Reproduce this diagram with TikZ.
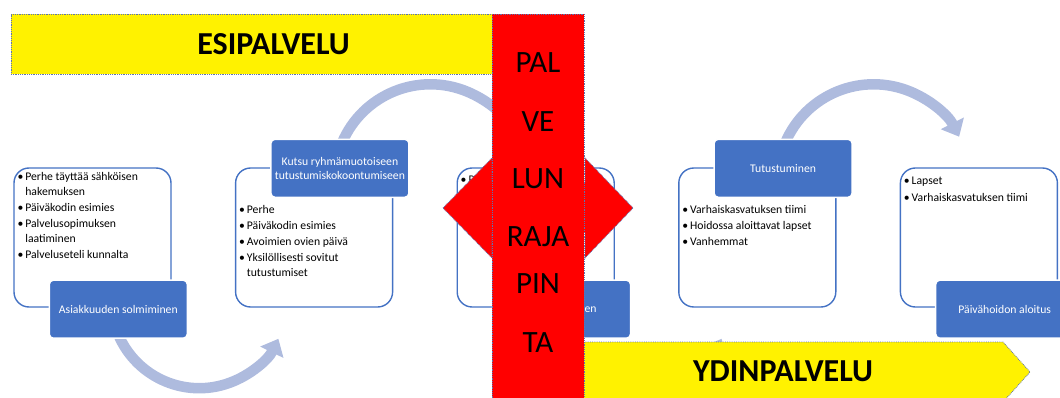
\documentclass[tikz,border=0pt]{standalone}
\usepackage{fontspec}
\setmainfont{Carlito}
\usetikzlibrary{arrows.meta,positioning,calc}

\definecolor{boxblue}{HTML}{4472C4}
\definecolor{arcblue}{RGB}{174,187,222}
\definecolor{dotblue}{RGB}{95,115,175}

\newcommand{\smalltxt}{\fontsize{11.7}{15}\selectfont}
\newcommand{\bigtxt}{\fontsize{31}{36}\selectfont}

\begin{document}
\begin{tikzpicture}
[x=1pt, y=1pt, node distance=63.2pt,
card/.style = {draw=boxblue, line width=1.4pt, rounded corners=15pt, fill=white,
  minimum width=157pt, minimum height=139pt, inner sep=0pt},
stage/.style = {fill=boxblue, draw=white, line width=1.5pt, rounded corners=4pt,
  minimum width=138pt, minimum height=58pt, inner sep=0pt, text=white,
  align=center, font=\smalltxt},
items/.style = {anchor=base west, inner sep=0pt, font=\smalltxt},
turn/.style = {draw=arcblue, line width=10.5pt, -{Triangle[length=15pt,width=25pt]}},
band/.style = {draw=dotblue, densely dotted, line width=0.8pt},
word/.style = {font=\bigtxt, anchor=base, inner sep=0pt}]
\useasboundingbox (0,0) rectangle (1060,-398);
\clip (0,0) rectangle (1060,-398);

% white boxes
\node [card] (w1) at (92.5,-237.5) {};
\node [card, right=of w1] (w2) {};
\node [card, right=of w2] (w3) {};
\node [card, right=of w3] (w4) {};
\node [card, right=of w4] (w5) {};

% curved arrows
\coordinate (c1) at ($(w1.south west)+(186,7.5)$);
\coordinate (c2) at ($(w2.north west)+(195.5,-13)$);
\coordinate (c3) at ($(w3.south west)+(186,7.5)$);
\coordinate (c4) at ($(w4.north west)+(195.5,-13)$);
\draw[turn] ($(c1)+(200:88pt)$) arc[start angle=200, end angle=334, radius=88pt];
\draw[turn] ($(c2)+(160:96pt)$) arc[start angle=160, end angle=27, radius=96pt];
\draw[turn] ($(c3)+(200:88pt)$) arc[start angle=200, end angle=334, radius=88pt];
\draw[turn] ($(c4)+(160:96pt)$) arc[start angle=160, end angle=27, radius=96pt];

% stage labels
\node [stage] (s1) at ($(w1.south west)+(105,-1.5)$) {Asiakkuuden solmiminen};
\node [stage] (s2) at ($(w2.north west)+(105,-1)$) {Kutsu ryhmämuotoiseen\\[-1pt]tutustumiskokoontumiseen};
\node [stage] (s3) at ($(w3.south west)+(105,-1.5)$) {Perehdytyksen};
\node [stage] (s4) at ($(w4.north west)+(105,-1)$) {Tutustuminen};
\node [stage] (s5) at ($(w5.south west)+(105,-1.5)$) {Päivähoidon aloitus};

% bullet lists
\node [items] (t1) at ($(w1.north west)+(4,-13)$) {\begin{tabular}[t]{@{}l@{\hspace{2pt}}l@{}}
•&Perhe täyttää sähköisen\\&hakemuksen\\[1pt]
•&Päiväkodin esimies\\[1pt]
•&Palvelusopimuksen\\&laatiminen\\[1pt]
•&Palveluseteli kunnalta\end{tabular}};
\node [items] (t2) at ($(w2.north west)+(4,-46)$) {\begin{tabular}[t]{@{}l@{\hspace{2pt}}l@{}}
•&Perhe\\[1pt]
•&Päiväkodin esimies\\[1pt]
•&Avoimien ovien päivä\\[1pt]
•&Yksilöllisesti sovitut\\&tutustumiset\end{tabular}};
\node [items] (t3) at ($(w3.north west)+(4,-16)$) {\begin{tabular}[t]{@{}l@{\hspace{2pt}}l@{}}
•&Perhe\end{tabular}};
\node [items] (t4) at ($(w4.north west)+(4,-46)$) {\begin{tabular}[t]{@{}l@{\hspace{2pt}}l@{}}
•&Varhaiskasvatuksen tiimi\\[1pt]
•&Hoidossa aloittavat lapset\\[1pt]
•&Vanhemmat\end{tabular}};
\node [items] (t5) at ($(w5.north west)+(4,-17)$) {\begin{tabular}[t]{@{}l@{\hspace{2pt}}l@{}}
•&Lapset\\[2pt]
•&Varhaiskasvatuksen tiimi\end{tabular}};

% yellow banners
\node [band, fill=yellow, minimum width=525pt, minimum height=60pt, inner sep=0pt,
  font=\fontsize{32}{36}\selectfont\bfseries] (pre) at (273.5,-44) {ESIPALVELU};
\path [band, fill=yellow] (583,-342) -- (1003,-342) -- (1030,-372) -- (1003,-402) -- (583,-402) -- cycle;
\node [word, font=\fontsize{32}{36}\selectfont\bfseries] (core) at (783,-381) {YDINPALVELU};

% red interface
\path [band, fill=red] (443,-208) -- (492,-158) -- (492,-183) -- (585,-183) -- (585,-158)
  -- (633,-208) -- (585,-258) -- (585,-233) -- (492,-233) -- (492,-258) -- cycle;
\path [band, fill=red] (492,-14) rectangle (584,-405);
\node [word] (p1) at (538,-73) {PAL};
\node [word] (p2) at (538,-132) {VE};
\node [word] (p3) at (538,-189) {LUN};
\node [word] (p4) at (538,-247) {RAJA};
\node [word] (p5) at (538,-293) {PIN};
\node [word] (p6) at (538,-352) {TA};

\end{tikzpicture}
\end{document}
